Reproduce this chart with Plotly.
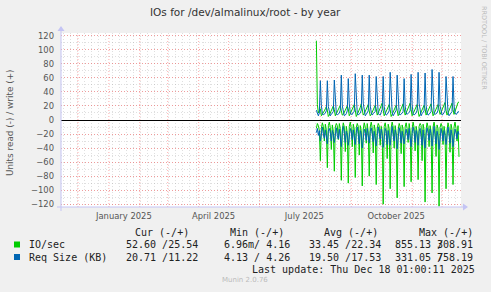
import pandas as pd
import plotly.graph_objects as go

# ---------------- data ----------------
start_date = "2025-07-28"

io_write = [113, 22, 10, 14,
            16, 6, 8, 11, 13, 16, 19,
            14, 5, 7, 10, 14, 17, 20,
            15, 6, 9, 12, 15, 18, 21,
            13, 7, 8, 11, 14, 16, 20,
            16, 6, 9, 12, 16, 19, 22,
            14, 5, 8, 11, 15, 18, 23,
            15, 7, 9, 13, 16, 20, 22,
            13, 6, 8, 12, 15, 19, 21,
            16, 7, 10, 13, 17, 20, 24,
            14, 6, 9, 12, 16, 19, 22,
            15, 5, 8, 11, 15, 18, 21,
            14, 6, 9, 12, 16, 20, 23,
            16, 7, 10, 13, 17, 21, 24,
            15, 6, 9, 12, 15, 19, 22,
            13, 5, 8, 11, 15, 18, 21,
            16, 7, 10, 14, 17, 20, 23,
            14, 6, 9, 13, 16, 19, 22,
            15, 8, 11, 14, 18, 22, 25,
            14, 7, 10, 13, 17, 21, 24,
            15, 8, 12, 16, 22, 25, 25.54]

io_read = [-12, -5, -8, -15,
           -58, -12, -4, -9, -30, -6, -14,
           -68, -8, -3, -11, -42, -7, -16,
           -73, -10, -5, -8, -28, -5, -12,
           -86, -14, -4, -10, -45, -9, -18,
           -90, -9, -3, -12, -38, -6, -13,
           -82, -11, -5, -9, -50, -8, -15,
           -94, -13, -4, -10, -33, -5, -17,
           -80, -10, -3, -11, -47, -7, -14,
           -92, -12, -5, -8, -36, -9, -16,
           -120, -9, -4, -13, -55, -6, -12,
           -98, -11, -3, -10, -40, -8, -18,
           -111, -14, -5, -9, -48, -7, -13,
           -95, -10, -4, -12, -32, -5, -15,
           -88, -12, -3, -11, -44, -9, -17,
           -85, -9, -5, -8, -58, -6, -14,
           -117, -13, -4, -10, -38, -8, -16,
           -104, -10, -3, -12, -52, -7, -12,
           -123, -11, -5, -9, -35, -9, -18,
           -98, -14, -4, -11, -46, -6, -13,
           -92, -10, -3, -12, -30, -8, -52.60]

req_write = [14, 8, 6, 10,
             56, 21, 9, 7, 8, 10, 13,
             56, 19, 10, 6, 8, 11, 12,
             57, 22, 9, 7, 9, 10, 14,
             64, 20, 11, 6, 7, 9, 13,
             59, 23, 10, 8, 8, 11, 12,
             66, 21, 9, 7, 9, 10, 14,
             64, 24, 10, 6, 8, 12, 13,
             64, 20, 11, 7, 9, 10, 12,
             62, 22, 9, 8, 7, 11, 15,
             62, 19, 10, 7, 8, 10, 13,
             68, 23, 11, 6, 9, 12, 14,
             64, 21, 9, 7, 8, 10, 12,
             59, 20, 10, 8, 9, 11, 13,
             65, 22, 9, 7, 8, 10, 14,
             68, 24, 11, 6, 9, 12, 13,
             67, 21, 10, 7, 8, 11, 12,
             72, 23, 9, 8, 9, 10, 14,
             68, 20, 10, 7, 8, 12, 13,
             62, 22, 11, 6, 9, 10, 12,
             62, 21, 10, 8, 9, 12, 11.22]

req_read = [-18, -12, -22, -15,
            -30, -18, -10, -20, -26, -14, -22,
            -34, -16, -12, -18, -30, -15, -20,
            -32, -20, -11, -22, -27, -13, -24,
            -38, -17, -9, -19, -32, -16, -21,
            -36, -21, -12, -17, -28, -14, -23,
            -35, -18, -10, -21, -34, -15, -20,
            -40, -19, -13, -18, -29, -12, -22,
            -33, -16, -11, -20, -31, -16, -25,
            -37, -22, -10, -19, -27, -13, -21,
            -39, -18, -12, -17, -35, -15, -24,
            -36, -20, -9, -22, -30, -14, -20,
            -41, -17, -11, -18, -33, -16, -23,
            -34, -21, -13, -20, -28, -12, -22,
            -38, -19, -10, -17, -32, -15, -21,
            -36, -16, -12, -21, -36, -14, -24,
            -40, -20, -11, -18, -29, -13, -20,
            -37, -18, -9, -22, -34, -16, -23,
            -42, -21, -12, -19, -30, -15, -22,
            -35, -17, -10, -20, -33, -14, -21,
            -38, -19, -13, -18, -27, -16, -20.71]

month_starts = ["2024-12-01", "2025-01-01", "2025-02-01", "2025-03-01", "2025-04-01",
                "2025-05-01", "2025-06-01", "2025-07-01", "2025-08-01", "2025-09-01",
                "2025-10-01", "2025-11-01", "2025-12-01"]
label_dates = ["2025-01-16", "2025-04-16", "2025-07-16", "2025-10-16"]
label_texts = ["January 2025", "April 2025", "July 2025", "October 2025"]
y_ticks = [-120, -100, -80, -60, -40, -20, 0, 20, 40, 60, 80, 100, 120]

legend_names = ["IO/sec", "Req Size (KB)"]
legend_cur = ["52.60 /25.54", "20.71 /11.22"]
legend_min = ["6.96m/ 4.16", "4.13 / 4.26"]
legend_avg = ["33.45 /22.34", "19.50 /17.53"]
legend_max_a = ["855.13 /", "331.05 /"]
legend_max_b = ["308.91", "758.19"]

# ---------------- figure ----------------
GREEN = "#00CC00"
BLUE = "#0066B3"
W, H = 491, 292
PL, PR, PT, PB = 61, 461, 33, 207


def px(x):
    return (x - PL) / (PR - PL)


def py(y):
    return (PB - y) / (PB - PT)


dates = pd.date_range(start_date, periods=len(io_write), freq="D")

fig = go.Figure()
fig.add_trace(go.Scatter(x=dates, y=io_read, mode="lines", line=dict(color=GREEN, width=1)))
fig.add_trace(go.Scatter(x=dates, y=io_write, mode="lines", line=dict(color=GREEN, width=1)))
fig.add_trace(go.Scatter(x=dates, y=req_read, mode="lines", line=dict(color=BLUE, width=1)))
fig.add_trace(go.Scatter(x=dates, y=req_write, mode="lines", line=dict(color=BLUE, width=1)))

RED_GRID = "rgba(255,90,90,0.5)"
GREY_GRID = "rgba(150,150,150,0.3)"
AXIS = "#C4C4F4"
DOT = "1px,2px"

shapes = []
for m in month_starts:
    shapes.append(dict(type="line", xref="x", yref="paper", x0=m, x1=m, y0=0, y1=1,
                       line=dict(color=RED_GRID, width=1, dash=DOT), layer="below"))
# axes lines and arrows
shapes.append(dict(type="line", xref="paper", yref="paper", x0=px(57), x1=px(464),
                   y0=py(207), y1=py(207), line=dict(color=AXIS, width=1)))
shapes.append(dict(type="line", xref="paper", yref="paper", x0=px(61), x1=px(61),
                   y0=py(211), y1=py(30), line=dict(color=AXIS, width=1)))
shapes.append(dict(type="path", xref="paper", yref="paper",
                   path=f"M {px(463)} {py(203.5)} L {px(468)} {py(207)} L {px(463)} {py(210.5)} Z",
                   fillcolor=AXIS, line=dict(width=0)))
shapes.append(dict(type="path", xref="paper", yref="paper",
                   path=f"M {px(57.5)} {py(31)} L {px(61)} {py(26)} L {px(64.5)} {py(31)} Z",
                   fillcolor=AXIS, line=dict(width=0)))
# legend squares
for yc, col in [(244.5, GREEN), (257, BLUE)]:
    shapes.append(dict(type="rect", xref="paper", yref="paper", x0=px(14), x1=px(20),
                       y0=py(yc + 3), y1=py(yc - 3), fillcolor=col, line=dict(width=0)))

MONO = "DejaVu Sans Mono"
TXT = "#222222"
ann = []


def t(x, y, text, size=10, color=TXT, family=MONO, xa="left", angle=0, ya="middle"):
    ann.append(dict(xref="paper", yref="paper", x=px(x), y=py(y), text=text, showarrow=False,
                    xanchor=xa, yanchor=ya, textangle=angle,
                    font=dict(family=family, size=size, color=color)))


t(245, 12, "IOs for /dev/almalinux/root - by year", size=10.5, color="#333333",
  family="DejaVu Sans", xa="center")
t(10, 123, "Units read (-) / write (+)", size=8.9, color="#555555", family="DejaVu Sans",
  xa="center", angle=-90)
t(484, 4, "RRDTOOL / TOBI OETIKER", size=6.5, color="#BBBBBB", family="DejaVu Sans",
  xa="center", angle=90, ya="top")

t(133, 232, "Cur (-/+)")
t(228, 232, "Min (-/+)")
t(322, 232, "Avg (-/+)")
t(416.5, 232, "Max (-/+)")
for i, yc in enumerate([244.5, 257]):
    t(26.5, yc, legend_names[i].replace(" ", "&nbsp;"))
    t(124.3, yc, legend_cur[i].replace(" ", "&nbsp;"))
    t(222, yc, legend_min[i].replace(" ", "&nbsp;"))
    t(307, yc, legend_avg[i].replace(" ", "&nbsp;"))
    t(393, yc, legend_max_a[i].replace(" ", "&nbsp;"))
    t(435, yc, legend_max_b[i])
t(477, 269, "Last update: Thu Dec 18 01:00:11 2025".replace(" ", "&nbsp;"), xa="right")
t(245, 280, "Munin 2.0.76", size=7, color="#BBBBBB", family="DejaVu Sans", xa="center")

fig.update_layout(
    width=W, height=H,
    margin=dict(l=PL, r=W - PR, t=PT, b=H - PB, pad=0),
    paper_bgcolor="#F0F0F0", plot_bgcolor="#FFFFFF",
    showlegend=False,
    shapes=shapes, annotations=ann,
    xaxis=dict(
        type="date", range=["2024-11-14", "2025-12-20"],
        tickvals=label_dates, ticktext=label_texts,
        showgrid=False, zeroline=False, showline=False, ticks="",
        ticklabelstandoff=3,
        tickfont=dict(family="DejaVu Sans", size=8.4, color="#555555"),
        minor=dict(dtick=7 * 24 * 3600 * 1000, tick0="2024-11-24", showgrid=True,
                   gridcolor=GREY_GRID, griddash=DOT, gridwidth=1, ticks=""),
    ),
    yaxis=dict(
        range=[-124, 124], tickvals=y_ticks,
        showgrid=True, gridcolor=RED_GRID, griddash=DOT, gridwidth=1,
        zeroline=True, zerolinecolor="#000000", zerolinewidth=1,
        showline=False, ticks="", ticklabelstandoff=6,
        tickfont=dict(family="DejaVu Sans", size=8.4, color="#555555"),
        minor=dict(dtick=10, tick0=0, showgrid=True, gridcolor=GREY_GRID,
                   griddash=DOT, gridwidth=1, ticks=""),
    ),
)

fig.write_html("out.html")
